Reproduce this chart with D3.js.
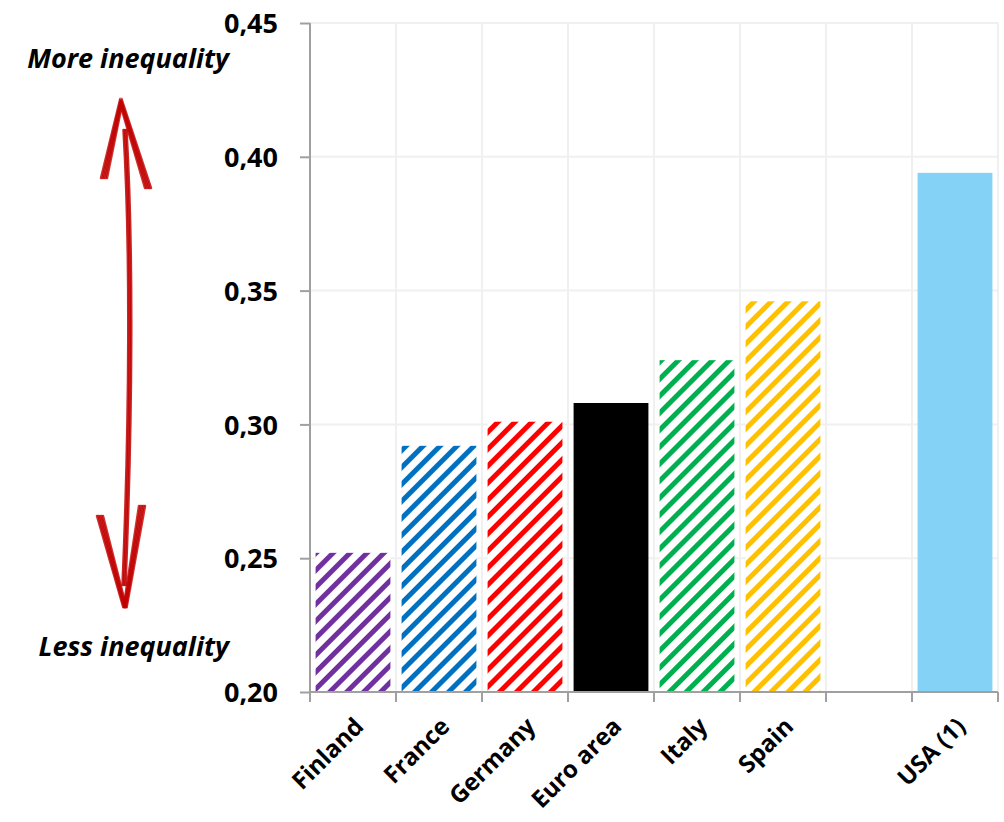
<!DOCTYPE html>
<html><head><meta charset="utf-8">
<script src="https://cdn.jsdelivr.net/npm/d3@7"></script>
<style>body{margin:0;background:#fff}svg{display:block}</style>
</head><body>
<script>
const categories = ["Finland","France","Germany","Euro area","Italy","Spain","gap","USA (1)"];
const labels = ["Finland","France","Germany","Euro area","Italy","Spain","","USA (1)"];
const values = [0.252,0.292,0.301,0.308,0.324,0.346,null,0.394];
const colors = ["#7030a0","#0070c0","#ff0000","#000000","#00b050","#ffc000",null,"#84d2f6"];
const hatched = [true,true,true,false,true,true,false,false];
const yTicks = [0.20,0.25,0.30,0.35,0.40,0.45];

const W=1004,H=822;
const svg=d3.select("body").append("svg").attr("width",W).attr("height",H);
const font="'Open Sans', Lato, sans-serif";
const x=d3.scaleBand().domain(categories).range([310,998]).padding(0);
const y=d3.scaleLinear().domain([0.20,0.45]).range([692,23]);

const defs=svg.append("defs");
colors.forEach((c,i)=>{
  if(!hatched[i]) return;
  const p=defs.append("pattern").attr("id","h"+i).attr("patternUnits","userSpaceOnUse")
    .attr("width",12).attr("height",12).attr("patternTransform","rotate(45)");
  p.append("rect").attr("width",12).attr("height",12).attr("fill","#fff");
  p.append("rect").attr("x",0).attr("width",5).attr("height",12).attr("fill",c);
});

// gridlines
const g=svg.append("g");
g.selectAll(".hg").data(yTicks.slice(1)).join("line")
  .attr("x1",310).attr("x2",998).attr("y1",d=>y(d)).attr("y2",d=>y(d))
  .attr("stroke","#f0f0f0").attr("stroke-width",2);
const edges=categories.map(c=>x(c)).concat([x.range()[1]]);
g.selectAll(".vg").data(edges.slice(1)).join("line")
  .attr("x1",d=>d).attr("x2",d=>d).attr("y1",23).attr("y2",692)
  .attr("stroke","#f0f0f0").attr("stroke-width",2);

// bars
const bw=x.bandwidth();
svg.append("g").selectAll("rect").data(categories.map((c,i)=>({c,i,v:values[i]})).filter(d=>d.v!=null))
  .join("rect")
  .attr("x",d=>x(d.c)+bw*0.065).attr("width",bw*0.87)
  .attr("y",d=>y(d.v)).attr("height",d=>y(0.20)-y(d.v))
  .attr("fill",d=>hatched[d.i]?`url(#h${d.i})`:colors[d.i]);

// axes
const axCol="#a0a0a0";
const yAxis=svg.append("g").attr("transform","translate(310,0)")
  .call(d3.axisLeft(y).tickValues(yTicks).tickSize(10).tickFormat(d=>d3.format(".2f")(d).replace(".",",")));
yAxis.select(".domain").attr("stroke",axCol).attr("stroke-width",2).attr("d","M0,23V692");
yAxis.selectAll(".tick line").attr("stroke",axCol).attr("stroke-width",2);
yAxis.selectAll(".tick text").attr("x",-32).attr("dy","0.36em")
  .style("font-family",font).style("font-weight","bold").style("font-size","27px").attr("fill","#000");

const xAxis=svg.append("g").attr("transform","translate(0,692)")
  .call(d3.axisBottom(x).tickValues([]).tickSize(0));
xAxis.select(".domain").attr("stroke",axCol).attr("stroke-width",2).attr("d","M310,0H998");
svg.append("g").selectAll("line").data(edges).join("line")
  .attr("x1",d=>d).attr("x2",d=>d).attr("y1",692).attr("y2",702)
  .attr("stroke",axCol).attr("stroke-width",2);
svg.append("g").selectAll("text").data(categories.map((c,i)=>({c,l:labels[i]})))
  .join("text")
  .attr("transform",d=>`translate(${x(d.c)+bw/2+6},${722}) rotate(-45)`)
  .attr("text-anchor","end").attr("dy","0.35em")
  .style("font-family",font).style("font-weight","bold").style("font-size","24px")
  .text(d=>d.l);

// annotations
svg.append("text").attr("x",229).attr("y",68).attr("text-anchor","end")
  .style("font-family",font).style("font-weight","bold").style("font-style","italic").style("font-size","27px")
  .text("More inequality");
svg.append("text").attr("x",229).attr("y",656).attr("text-anchor","end")
  .style("font-family",font).style("font-weight","bold").style("font-style","italic").style("font-size","27px")
  .text("Less inequality");

// red double arrow (hand-drawn style)
const red="#c00000";
const arrows=svg.append("g").attr("fill","none").attr("stroke",red).attr("stroke-linecap","round").attr("stroke-linejoin","miter");
const offs=[-3,-1.5,0,1.5,3];
offs.forEach(o=>{
  arrows.append("path").attr("d",`M${104+o},${178} L${121+o*0.5},${102} L${148+o},${188}`).attr("stroke-width",2.5).attr("opacity",0.8);
  arrows.append("path").attr("d",`M${100+o},${516} L${125+o*0.5},${608} L${142+o},${506}`).attr("stroke-width",2.5).attr("opacity",0.8);
});
[-1.5,0,1.5].forEach(o=>{
  arrows.append("path").attr("d",`M${125+o},${130} C${132+o},${250} ${131+o},${420} ${124+o},${585}`).attr("stroke-width",2.5).attr("opacity",0.85);
});
</script>
</body></html>
